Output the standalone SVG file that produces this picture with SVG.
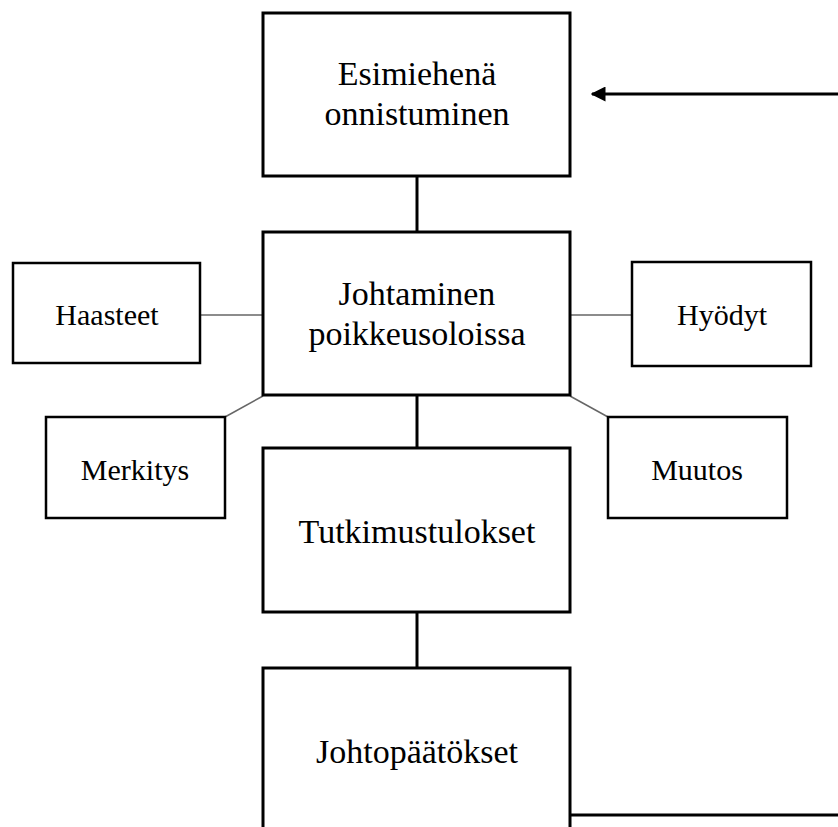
<svg xmlns="http://www.w3.org/2000/svg" width="838" height="827" viewBox="0 0 838 827">
<style>
.main{fill:#fff;stroke:#000;stroke-width:3}
.side{fill:#fff;stroke:#000;stroke-width:2.5}
.t{font-family:"Liberation Serif","Times New Roman",serif;fill:#000;text-anchor:middle}
.big{font-size:34px}
.sm{font-size:30px}
.c{stroke:#000;stroke-width:3;fill:none}
.g{stroke:#666;stroke-width:1.5;fill:none}
</style>
<defs>
<marker id="ah" viewBox="0 0 10 10" refX="9" refY="5" markerWidth="5" markerHeight="5" orient="auto">
<path d="M0,0 L10,5 L0,10 z" fill="#000"/>
</marker>
</defs>
<rect width="838" height="827" fill="#fff"/>
<g id="connectors">
<line class="c" x1="417" y1="176" x2="417" y2="232"/>
<line class="c" x1="417" y1="395" x2="417" y2="448"/>
<line class="c" x1="417" y1="612" x2="417" y2="668"/>
<line class="g" x1="200" y1="315" x2="263" y2="315"/>
<line class="g" x1="570" y1="315" x2="632" y2="315"/>
<line class="g" x1="225" y1="417" x2="263" y2="396"/>
<line class="g" x1="570" y1="396" x2="608" y2="417"/>
<line class="c" x1="570" y1="815" x2="838" y2="815"/>
<line class="c" x1="838" y1="94" x2="592" y2="94" marker-end="url(#ah)"/>
</g>
<g id="esimiehena">
<rect class="main" x="263" y="13" width="307" height="163"/>
<text class="t big" x="417" y="85">Esimiehenä</text>
<text class="t big" x="417" y="125">onnistuminen</text>
</g>
<g id="johtaminen">
<rect class="main" x="263" y="232" width="307" height="163"/>
<text class="t big" x="417" y="305">Johtaminen</text>
<text class="t big" x="417" y="345">poikkeusoloissa</text>
</g>
<g id="tutkimustulokset">
<rect class="main" x="263" y="448" width="307" height="164"/>
<text class="t big" x="417" y="543">Tutkimustulokset</text>
</g>
<g id="johtopaatokset">
<rect class="main" x="263" y="668" width="307" height="170"/>
<text class="t big" x="417" y="763">Johtopäätökset</text>
</g>
<g id="haasteet">
<rect class="side" x="13" y="263" width="187" height="100"/>
<text class="t sm" x="107" y="325">Haasteet</text>
</g>
<g id="hyodyt">
<rect class="side" x="632" y="262" width="179" height="104"/>
<text class="t sm" x="722" y="325">Hyödyt</text>
</g>
<g id="merkitys">
<rect class="side" x="46" y="417" width="179" height="101"/>
<text class="t sm" x="135" y="480">Merkitys</text>
</g>
<g id="muutos">
<rect class="side" x="608" y="417" width="179" height="101"/>
<text class="t sm" x="697" y="480">Muutos</text>
</g>
</svg>
